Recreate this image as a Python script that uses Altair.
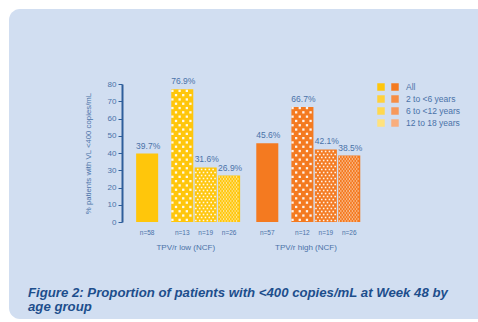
import altair as alt
import pandas as pd
import numpy as np

# ---- data ----
groups = ["TPV/r low (NCF)", "TPV/r high (NCF)"]
ages = ["All", "2 to <6 years", "6 to <12 years", "12 to 18 years"]
low_values = [39.7, 76.9, 31.6, 26.9]
high_values = [45.6, 66.7, 42.1, 38.5]
low_n = [58, 13, 19, 26]
high_n = [57, 12, 19, 26]
y_ticks = [0, 10, 20, 30, 40, 50, 60, 70, 80]
caption = "Figure 2: Proportion of patients with <400 copies/mL at Week 48 by\nage group"
y_title = "% patients with VL <400 copies/mL"

# ---- layout ----
W, H = 251, 138
PAD = {"left": 122, "top": 84, "right": 105, "bottom": 100}
XMIN, XMAX = -0.86, 9.43
YMAX = 80
within = [0, 1.5, 2.5, 3.5]
group_step = 5.13
half_bar = 0.47
YELLOW, ORANGE = "#FFC60B", "#F47A20"
BLUE_TXT = "#4A72A8"
AXIS_BLUE = "#2E5E9B"
FONT = "Liberation Sans"

rows = []
for gi, (g, vals, ns) in enumerate([(groups[0], low_values, low_n), (groups[1], high_values, high_n)]):
    for ai, a in enumerate(ages):
        s = gi * group_step + within[ai]
        rows.append({"group": g, "age": a, "ai": ai, "value": vals[ai],
                     "n": f"n={ns[ai]}", "label": f"{vals[ai]:.1f}%",
                     "slot": s, "x0": s - half_bar, "x1": s + half_bar,
                     "color": YELLOW if gi == 0 else ORANGE})
df = pd.DataFrame(rows)

# texture dots (pattern fill imitation), laid inside each patterned bar
px_x = W / (XMAX - XMIN)
px_y = H / YMAX
patterns = {1: (4.3, 7.5, 2.3), 2: (3.0, 4.0, 1.6), 3: (2.0, 3.0, 1.2)}
dots = []
for r in rows:
    if r["ai"] == 0:
        continue
    dy, dx, sz = patterns[r["ai"]]
    bar_w = 2 * half_bar * px_x
    bar_h = r["value"] * px_y
    k = 0
    yy = dy / 2
    while yy < bar_h - 1:
        off = (dx / 2) if k % 2 else 0
        xx = 1.2 + off
        while xx < bar_w - 1:
            dots.append({"sx": r["x0"] + xx / px_x, "sy": yy / px_y, "sz": sz * sz,
                         "ai": r["ai"]})
            xx += dx
        yy += dy
        k += 1
dots_df = pd.DataFrame(dots)

xs = alt.Scale(domain=[XMIN, XMAX], nice=False, zero=False)
ys = alt.Scale(domain=[0, YMAX], nice=False)

bg = alt.Chart(pd.DataFrame({"a": [0]})).mark_rect(
    color="#D1DEF1", cornerRadius=11
).encode(
    x=alt.value(9 - PAD["left"]), x2=alt.value(W + PAD["right"] + 20),
    y=alt.value(9 - PAD["top"]), y2=alt.value(H + PAD["bottom"] - 3),
)

bars = alt.Chart(df).mark_bar(orient="vertical").encode(
    x=alt.X("x0:Q", scale=xs,
            axis=alt.Axis(labels=False, ticks=False, title=None, grid=False,
                          domainColor=AXIS_BLUE, domainWidth=1.5, zindex=1)),
    x2="x1:Q",
    y=alt.Y("value:Q", scale=ys,
            axis=alt.Axis(values=y_ticks, title=y_title, grid=False, zindex=1,
                          domainColor=AXIS_BLUE, domainWidth=2,
                          tickColor=AXIS_BLUE, tickSize=4, tickWidth=1,
                          labelColor=BLUE_TXT, labelFontSize=8, labelFont=FONT,
                          labelPadding=2, titleFont=FONT, titleFontSize=7.8,
                          titleFontWeight="normal", titleColor=BLUE_TXT,
                          titlePadding=15)),
    y2=alt.datum(0),
    color=alt.Color("color:N", scale=None),
)

dot_layer = alt.Chart(dots_df).mark_square(color="white", opacity=0.9, strokeWidth=0).encode(
    x=alt.X("sx:Q", scale=xs, axis=None),
    y=alt.Y("sy:Q", scale=ys, axis=None),
    size=alt.Size("sz:Q", scale=None),
)

val_text = alt.Chart(df).mark_text(
    font=FONT, fontSize=8.5, color=BLUE_TXT, baseline="alphabetic", dy=-5, dx=1
).encode(
    x=alt.X("slot:Q", scale=xs, axis=None),
    y=alt.Y("value:Q", scale=ys, axis=None),
    text="label:N",
)

n_text = alt.Chart(df).mark_text(
    font=FONT, fontSize=6.5, color=BLUE_TXT, baseline="middle"
).encode(
    x=alt.X("slot:Q", scale=xs, axis=None),
    y=alt.value(H + 10.7),
    text="n:N",
)

gdf = pd.DataFrame({"group": groups,
                    "gx": [gi * group_step + (within[0] + within[-1]) / 2 - 0.1 for gi in range(2)]})
g_text = alt.Chart(gdf).mark_text(
    font=FONT, fontSize=8, color=BLUE_TXT, baseline="middle"
).encode(
    x=alt.X("gx:Q", scale=xs, axis=None),
    y=alt.value(H + 26.3),
    text="group:N",
)

leg_df = pd.DataFrame({"age": ages, "row": list(range(len(ages))),
                       "c1": [YELLOW, "#FFD13A", "#FFD84F", "#FFE27E"],
                       "c2": [ORANGE, "#F68E45", "#F7985A", "#F9AE7E"]})
ly = alt.Y("row:O", scale=alt.Scale(type="point", domain=[0, 1, 2, 3], range=[3, 39], padding=0), axis=None)
leg_sw1 = alt.Chart(leg_df).mark_square(size=56, opacity=1).encode(
    x=alt.value(381 - PAD["left"]), y=ly, color=alt.Color("c1:N", scale=None))
leg_sw2 = alt.Chart(leg_df).mark_square(size=56, opacity=1).encode(
    x=alt.value(395 - PAD["left"]), y=ly, color=alt.Color("c2:N", scale=None))
leg_txt = alt.Chart(leg_df).mark_text(
    font=FONT, fontSize=8.5, color=BLUE_TXT, align="left", baseline="middle"
).encode(x=alt.value(406 - PAD["left"]), y=ly, text="age:N")

cap = alt.Chart(pd.DataFrame({"t": [caption]})).mark_text(
    font=FONT, fontSize=13.2, fontWeight="bold", fontStyle="italic", color="#1D4E8C",
    align="left", baseline="middle", lineBreak="\n", lineHeight=14
).encode(x=alt.value(28 - PAD["left"]), y=alt.value(293.3 - PAD["top"]), text="t:N")

chart = alt.layer(bg, bars, dot_layer, val_text, n_text, g_text,
                  leg_sw1, leg_sw2, leg_txt, cap).resolve_scale(
    y="independent"
).properties(
    width=W, height=H, autosize="none", padding=PAD, background="white"
).configure_view(stroke=None)

chart.save("out.html", embed_options={"renderer": "svg", "actions": False})
